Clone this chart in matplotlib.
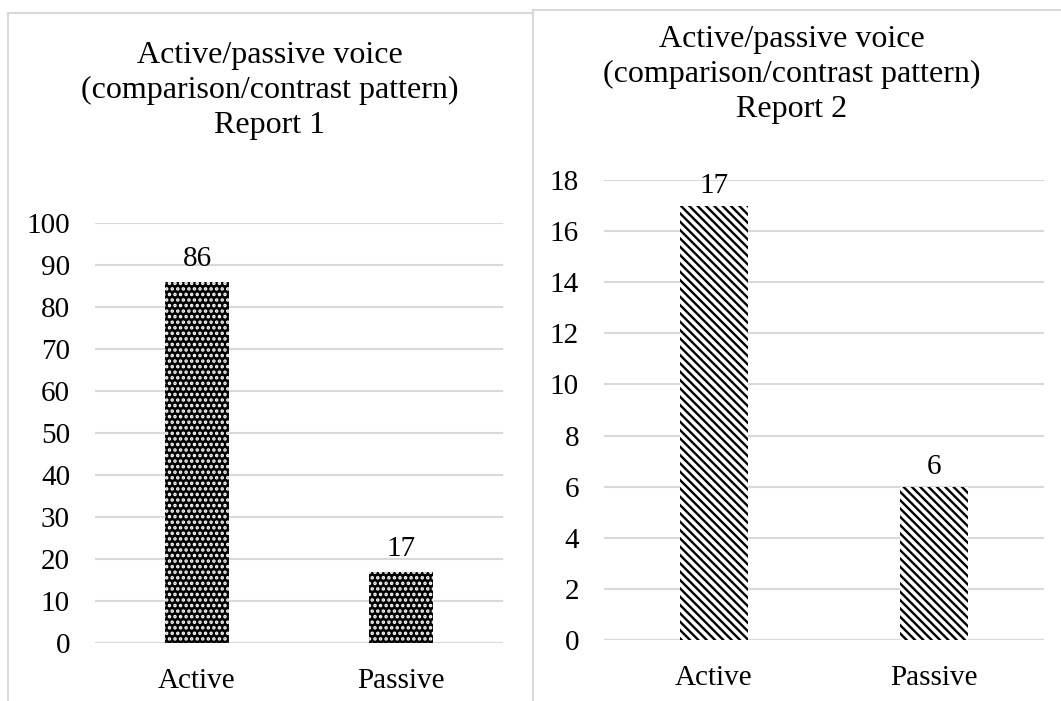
import matplotlib
matplotlib.use("Agg")
import matplotlib.pyplot as plt
from matplotlib.lines import Line2D

categories = ["Active", "Passive"]
report1_values = [86, 17]
report2_values = [17, 6]
report1_ticks = list(range(0, 101, 10))
report2_ticks = list(range(0, 19, 2))
title_lines_1 = ["Active/passive voice", "(comparison/contrast pattern)", "Report 1"]
title_lines_2 = ["Active/passive voice", "(comparison/contrast pattern)", "Report 2"]

plt.rcParams["font.family"] = ["Liberation Serif", "DejaVu Serif"]
plt.rcParams["hatch.linewidth"] = 1.7

W, H = 1061, 701
fig = plt.figure(figsize=(W / 100, H / 100), dpi=100)
grid_color = "#d9d9d9"


def px_rect(x0, y_top, x1, y_bottom):
    return [x0 / W, 1 - y_bottom / H, (x1 - x0) / W, (y_bottom - y_top) / H]


def style_axes(ax, ticks):
    ax.set_ylim(0, ticks[-1])
    ax.set_yticks(ticks)
    ax.set_xlim(-0.5, 1.5)
    ax.set_xticks(range(len(categories)))
    ax.set_xticklabels(categories)
    for s in ax.spines.values():
        s.set_visible(False)
    ax.yaxis.grid(True, color=grid_color, linewidth=1.5)
    ax.set_axisbelow(True)
    ax.tick_params(axis="both", length=0, labelsize=21, colors="black")
    ax.tick_params(axis="y", pad=18)
    ax.tick_params(axis="x", pad=18)
    # zero line
    ax.axhline(0, color=grid_color, linewidth=1.5, zorder=0.5)


# left panel: dotted bars
ax1 = fig.add_axes(px_rect(95, 223, 503, 643))
style_axes(ax1, report1_ticks)
ax1.bar(range(len(categories)), report1_values, width=0.31, color="black",
        linewidth=0, zorder=2)
ax1.bar(range(len(categories)), report1_values, width=0.31, facecolor="none",
        edgecolor="white", hatch="...", linewidth=0, zorder=3)
for i, v in enumerate(report1_values):
    ax1.annotate(str(v), (i, v), xytext=(0, 7), textcoords="offset points",
                 ha="center", va="bottom", fontsize=21)

# right panel: striped bars
ax2 = fig.add_axes(px_rect(604, 180, 1044, 640))
style_axes(ax2, report2_ticks)
ax2.bar(range(len(categories)), report2_values, width=0.31, facecolor="white",
        edgecolor="black", hatch="\\\\\\\\", linewidth=0, zorder=2)
for i, v in enumerate(report2_values):
    ax2.annotate(str(v), (i, v), xytext=(0, 5), textcoords="offset points",
                 ha="center", va="bottom", fontsize=21)

# titles
for k, line in enumerate(title_lines_1):
    fig.text(270 / W, 1 - (63 + 35 * k) / H, line, ha="center",
             va="baseline", fontsize=23)
for k, line in enumerate(title_lines_2):
    fig.text(792 / W, 1 - (47 + 35 * k) / H, line, ha="center",
             va="baseline", fontsize=23)

# chart frames
border = dict(color=grid_color, linewidth=1.5, transform=fig.transFigure)
fig.add_artist(Line2D([8 / W, 8 / W], [0, 1 - 13 / H], **border))
fig.add_artist(Line2D([8 / W, 533 / W], [1 - 13 / H, 1 - 13 / H], **border))
fig.add_artist(Line2D([533 / W, 533 / W], [0, 1 - 10 / H], **border))
fig.add_artist(Line2D([533 / W, 1 - 1 / W], [1 - 10 / H, 1 - 10 / H], **border))

fig.savefig("out.png", dpi=100)
